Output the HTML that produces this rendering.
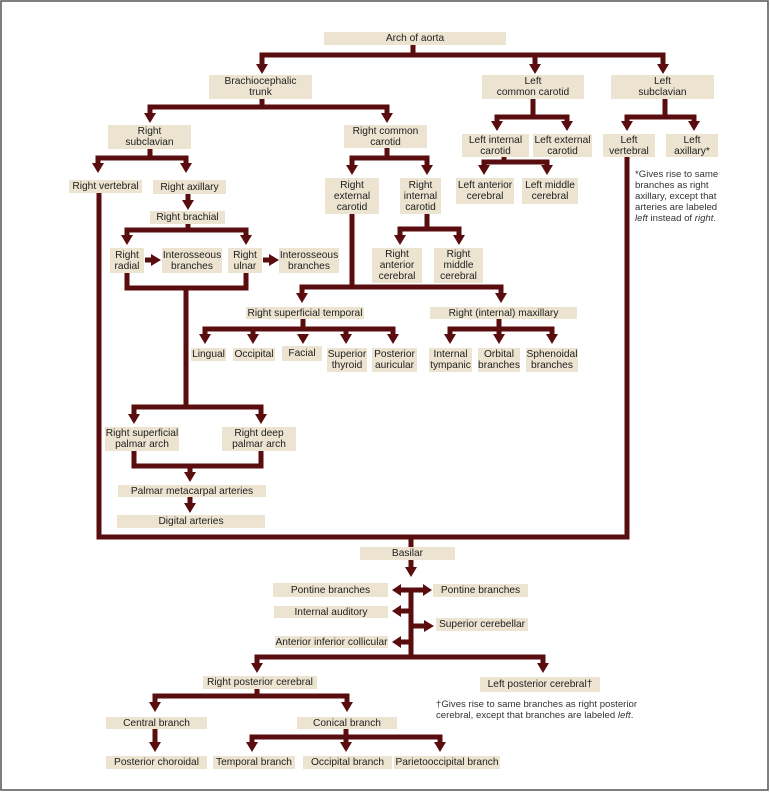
<!DOCTYPE html>
<html><head><meta charset="utf-8"><style>
html,body{margin:0;padding:0;background:#fff}
#c{position:relative;width:770px;height:793px;overflow:hidden;font-family:"Liberation Sans",Arial,sans-serif;color:#1e1e1e}
.b{position:absolute;background:#ece4d1;display:flex;align-items:center;justify-content:center;text-align:center;font-size:10.2px;line-height:11px;white-space:nowrap}
.n{position:absolute;font-size:9.6px;line-height:11px;color:#333;white-space:nowrap}
svg{position:absolute;left:0;top:0}
</style></head><body><div id="c">
<svg width="770" height="793" viewBox="0 0 770 793">
<rect x="1" y="1" width="767" height="789" fill="none" stroke="#555" stroke-width="1.5"/>
<g fill="none" stroke="#5a0d0f" stroke-width="5" stroke-linejoin="miter">
<path d="M413 45V55M262 65V55H663V65M535 55V65"/>
<path d="M262 99V107M150 114V107H387V114"/>
<path d="M533 99V117M497 122V117H567V122"/>
<path d="M665 99V117M627 122V117H694V122"/>
<path d="M504 157V162M484 166V162H547V166"/>
<path d="M150 149V158M98 164V158H186V164"/>
<path d="M99 193V537H627V157M411 537V547"/>
<path d="M188 194V201"/>
<path d="M188 224V230M127 236V230H246V236"/>
<path d="M145 260H152M263 260H270"/>
<path d="M127 273V288H246V273M186 288V407M134 414V407H261V414"/>
<path d="M134 451V466H261V451M190 466V473M190 497V504"/>
<path d="M387 148V158M352 165V158H427V165"/>
<path d="M427 214V229M400 236V229H459V236"/>
<path d="M352 214V287M302 294V287H501V294"/>
<path d="M303 319V329M205 335V329H393V335M253 329V335M346 329V335"/>
<path d="M499 319V335M450 335V329H552V335"/>
<path d="M411 560V568M411 588V657M400 590H423M411 611H401M411 626H425M411 642H401"/>
<path d="M257 665V657H543V665"/>
<path d="M257 689V696M155 703V696H347V703"/>
<path d="M155 729V743"/>
<path d="M346 729V743M252 743V737H440V743"/>
</g>
<g fill="#5a0d0f">
<path d="M256 64h12l-6 10zM529 64h12l-6 10zM657 64h12l-6 10z"/>
<path d="M144 113h12l-6 10zM381 113h12l-6 10z"/>
<path d="M491 121h12l-6 10zM561 121h12l-6 10zM621 121h12l-6 10zM688 121h12l-6 10z"/>
<path d="M478 165h12l-6 10zM541 165h12l-6 10z"/>
<path d="M92 163h12l-6 10zM180 163h12l-6 10z"/>
<path d="M182 200h12l-6 10z"/>
<path d="M121 235h12l-6 10zM240 235h12l-6 10z"/>
<path d="M151 254v12l10-6zM269 254v12l10-6z"/>
<path d="M128 414h12l-6 10zM255 414h12l-6 10z"/>
<path d="M184 472h12l-6 10zM184 503h12l-6 10z"/>
<path d="M346 165h12l-6 10zM421 165h12l-6 10z"/>
<path d="M394 235h12l-6 10zM453 235h12l-6 10z"/>
<path d="M296 293h12l-6 10zM495 293h12l-6 10z"/>
<path d="M199 334h12l-6 10zM247 334h12l-6 10zM297 334h12l-6 10zM340 334h12l-6 10zM387 334h12l-6 10z"/>
<path d="M444 334h12l-6 10zM493 334h12l-6 10zM546 334h12l-6 10z"/>
<path d="M405 567h12l-6 10z"/>
<path d="M401 584v12l-9-6zM423 584v12l9-6zM401 605v12l-9-6zM424 620v12l10-6zM401 636v12l-9-6z"/>
<path d="M251 663h12l-6 10zM537 663h12l-6 10z"/>
<path d="M149 702h12l-6 10zM341 702h12l-6 10z"/>
<path d="M149 742h12l-6 10zM246 742h12l-6 10zM340 742h12l-6 10zM434 742h12l-6 10z"/>
</g>
</svg>
<div class="b" style="left:324px;top:32px;width:182px;height:13px">Arch of aorta</div>
<div class="b" style="left:209px;top:75px;width:103px;height:24px">Brachiocephalic<br>trunk</div>
<div class="b" style="left:482px;top:75px;width:102px;height:24px">Left<br>common carotid</div>
<div class="b" style="left:611px;top:75px;width:103px;height:24px">Left<br>subclavian</div>
<div class="b" style="left:108px;top:125px;width:83px;height:24px">Right<br>subclavian</div>
<div class="b" style="left:344px;top:125px;width:83px;height:23px">Right common<br>carotid</div>
<div class="b" style="left:462px;top:134px;width:67px;height:23px">Left internal<br>carotid</div>
<div class="b" style="left:533px;top:134px;width:59px;height:23px">Left external<br>carotid</div>
<div class="b" style="left:603px;top:134px;width:52px;height:23px">Left<br>vertebral</div>
<div class="b" style="left:666px;top:134px;width:52px;height:23px">Left<br>axillary*</div>
<div class="b" style="left:456px;top:178px;width:58px;height:26px">Left anterior<br>cerebral</div>
<div class="b" style="left:522px;top:178px;width:56px;height:26px">Left middle<br>cerebral</div>
<div class="b" style="left:69px;top:180px;width:73px;height:13px">Right vertebral</div>
<div class="b" style="left:153px;top:180px;width:73px;height:14px">Right axillary</div>
<div class="b" style="left:325px;top:178px;width:54px;height:36px">Right<br>external<br>carotid</div>
<div class="b" style="left:400px;top:178px;width:41px;height:36px">Right<br>internal<br>carotid</div>
<div class="b" style="left:150px;top:211px;width:75px;height:13px">Right brachial</div>
<div class="b" style="left:110px;top:248px;width:34px;height:25px">Right<br>radial</div>
<div class="b" style="left:162px;top:248px;width:60px;height:25px">Interosseous<br>branches</div>
<div class="b" style="left:228px;top:248px;width:34px;height:25px">Right<br>ulnar</div>
<div class="b" style="left:279px;top:248px;width:60px;height:25px">Interosseous<br>branches</div>
<div class="b" style="left:372px;top:248px;width:50px;height:35px">Right<br>anterior<br>cerebral</div>
<div class="b" style="left:434px;top:248px;width:49px;height:35px">Right<br>middle<br>cerebral</div>
<div class="b" style="left:246px;top:307px;width:118px;height:12px">Right superficial temporal</div>
<div class="b" style="left:430px;top:307px;width:147px;height:12px">Right (internal) maxillary</div>
<div class="b" style="left:191px;top:348px;width:35px;height:13px">Lingual</div>
<div class="b" style="left:233px;top:348px;width:42px;height:13px">Occipital</div>
<div class="b" style="left:282px;top:346px;width:40px;height:15px">Facial</div>
<div class="b" style="left:327px;top:348px;width:40px;height:24px">Superior<br>thyroid</div>
<div class="b" style="left:372px;top:348px;width:45px;height:24px">Posterior<br>auricular</div>
<div class="b" style="left:429px;top:348px;width:43px;height:24px">Internal<br>tympanic</div>
<div class="b" style="left:478px;top:348px;width:42px;height:24px">Orbital<br>branches</div>
<div class="b" style="left:526px;top:348px;width:52px;height:24px">Sphenoidal<br>branches</div>
<div class="b" style="left:105px;top:427px;width:74px;height:24px">Right superficial<br>palmar arch</div>
<div class="b" style="left:222px;top:427px;width:74px;height:24px">Right deep<br>palmar arch</div>
<div class="b" style="left:118px;top:485px;width:148px;height:12px">Palmar metacarpal arteries</div>
<div class="b" style="left:117px;top:515px;width:148px;height:13px">Digital arteries</div>
<div class="b" style="left:360px;top:547px;width:95px;height:13px">Basilar</div>
<div class="b" style="left:273px;top:583px;width:115px;height:14px">Pontine branches</div>
<div class="b" style="left:433px;top:584px;width:95px;height:13px">Pontine branches</div>
<div class="b" style="left:274px;top:606px;width:114px;height:12px">Internal auditory</div>
<div class="b" style="left:436px;top:618px;width:92px;height:13px">Superior cerebellar</div>
<div class="b" style="left:275px;top:636px;width:113px;height:12px">Anterior inferior collicular</div>
<div class="b" style="left:203px;top:676px;width:114px;height:13px">Right posterior cerebral</div>
<div class="b" style="left:480px;top:677px;width:120px;height:15px">Left posterior cerebral†</div>
<div class="b" style="left:106px;top:717px;width:101px;height:12px">Central branch</div>
<div class="b" style="left:297px;top:717px;width:100px;height:12px">Conical branch</div>
<div class="b" style="left:106px;top:756px;width:101px;height:13px">Posterior choroidal</div>
<div class="b" style="left:213px;top:756px;width:82px;height:13px">Temporal branch</div>
<div class="b" style="left:303px;top:756px;width:89px;height:13px">Occipital branch</div>
<div class="b" style="left:394px;top:756px;width:106px;height:13px">Parietooccipital branch</div>
<div class="n" style="left:635px;top:169px">*Gives rise to same<br>branches as right<br>axillary, except that<br>arteries are labeled<br><i>left</i> instead of <i>right</i>.</div>
<div class="n" style="left:436px;top:699px">†Gives rise to same branches as right posterior<br>cerebral, except that branches are labeled <i>left</i>.</div>
</div></body></html>
